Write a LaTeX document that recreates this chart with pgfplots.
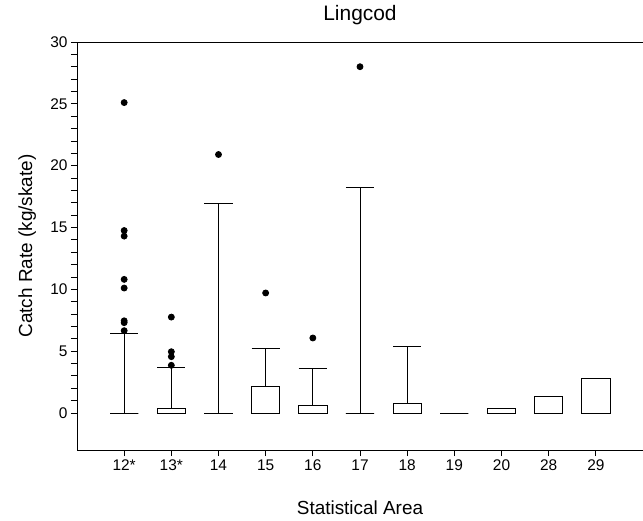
\documentclass[border=0pt]{standalone}
\usepackage{pgfplots}
\pgfplotsset{compat=1.18}
\usepgfplotslibrary{statistics}
\usepackage{fontspec}
\setmainfont{Liberation Sans}
\begin{document}
\begin{tikzpicture}
\begin{axis}[
  name=ax,
  scale only axis,
  width=566bp, height=408bp,
  xmin=-1, xmax=11, ymin=-3, ymax=30,
  axis x line*=box, axis y line*=left,
  axis line style={line width=0.9bp, black},
  xtick={0,1,2,3,4,5,6,7,8,9,10},
  xticklabels={12*,13*,14,15,16,17,18,19,20,28,29},
  xtick pos=lower, ytick pos=left,
  ytick={0,5,10,15,20,25,30},
  minor y tick num=4,
  tick align=outside,
  major tick length=6bp, minor tick length=6bp,
  tick style={black, line width=0.7bp},
  /pgf/number format/assume math mode=true,
  ticklabel style={font=\fontsize{15.5}{18}\selectfont},
  title={Lingcod},
  title style={at={(0.5,1)}, anchor=base, yshift=16bp, font=\fontsize{21}{25}\selectfont},
  xlabel={Statistical Area},
  xlabel style={at={(0.5,0)}, anchor=base, yshift=-64bp, font=\fontsize{19}{23}\selectfont},
  ylabel={Catch Rate (kg/skate)},
  ylabel style={at={(axis description cs:-0.0795,0.5)}, anchor=base, font=\fontsize{19}{23}\selectfont},
  boxplot/draw direction=y,
  clip=false,
]
\pgfplotsset{every axis plot/.append style={black, line width=0.8bp}}
% 12*
\addplot[boxplot prepared={draw position=0, lower whisker=0, lower quartile=0, median=0, upper quartile=0, upper whisker=6.47, box extend=0.6, whisker extend=0.6}] coordinates {};
% 13*
\addplot[boxplot prepared={draw position=1, lower whisker=0, lower quartile=0, median=0, upper quartile=0.38, upper whisker=3.72, box extend=0.6, whisker extend=0.6}] coordinates {};
% 14
\addplot[boxplot prepared={draw position=2, lower whisker=0, lower quartile=0, median=0, upper quartile=0, upper whisker=16.95, box extend=0.6, whisker extend=0.6}] coordinates {};
% 15
\addplot[boxplot prepared={draw position=3, lower whisker=0, lower quartile=0, median=0, upper quartile=2.18, upper whisker=5.25, box extend=0.6, whisker extend=0.6}] coordinates {};
% 16
\addplot[boxplot prepared={draw position=4, lower whisker=0, lower quartile=0, median=0, upper quartile=0.6, upper whisker=3.56, box extend=0.6, whisker extend=0.6}] coordinates {};
% 17
\addplot[boxplot prepared={draw position=5, lower whisker=0, lower quartile=0, median=0, upper quartile=0, upper whisker=18.2, box extend=0.6, whisker extend=0.6}] coordinates {};
% 18
\addplot[boxplot prepared={draw position=6, lower whisker=0, lower quartile=0, median=0, upper quartile=0.78, upper whisker=5.34, box extend=0.6, whisker extend=0.6}] coordinates {};
% 19
\addplot[boxplot prepared={draw position=7, lower whisker=0, lower quartile=0, median=0, upper quartile=0, upper whisker=0, box extend=0.6, whisker extend=0.6}] coordinates {};
% 20
\addplot[boxplot prepared={draw position=8, lower whisker=0, lower quartile=0, median=0, upper quartile=0.4, upper whisker=0.4, box extend=0.6, whisker extend=0.6}] coordinates {};
% 28
\addplot[boxplot prepared={draw position=9, lower whisker=0, lower quartile=0, median=0, upper quartile=1.35, upper whisker=1.35, box extend=0.6, whisker extend=0.6}] coordinates {};
% 29
\addplot[boxplot prepared={draw position=10, lower whisker=0, lower quartile=0, median=0, upper quartile=2.8, upper whisker=2.8, box extend=0.6, whisker extend=0.6}] coordinates {};
% outliers
\addplot[only marks, mark=*, mark size=3bp, black] coordinates {
 (0,25.1) (0,14.75) (0,14.3) (0,10.8) (0,10.1) (0,7.45) (0,7.3) (0,6.65)
 (1,7.75) (1,4.95) (1,4.55) (1,3.85)
 (2,20.9)
 (3,9.7)
 (4,6.06)
 (5,28.0)
};
\end{axis}
\pgfresetboundingbox
\path ([shift={(-77bp,-71bp)}]ax.south west) rectangle ([shift={(0bp,42bp)}]ax.north east);
\end{tikzpicture}
\end{document}
